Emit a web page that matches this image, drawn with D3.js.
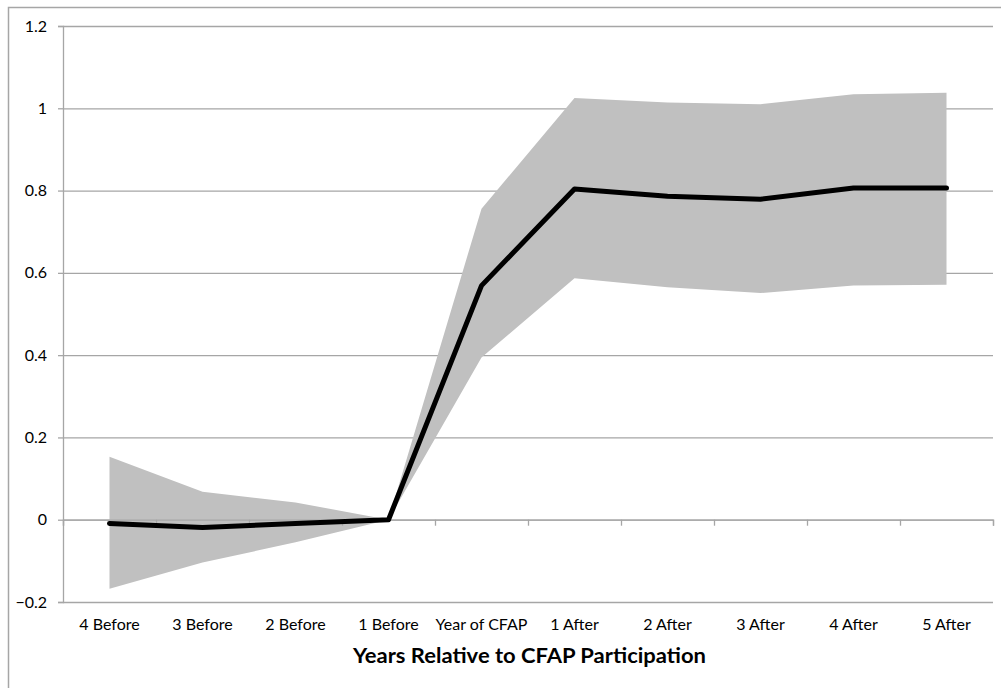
<!DOCTYPE html>
<html>
<head>
<meta charset="utf-8">
<script src="https://cdn.jsdelivr.net/npm/d3@7"></script>
<style>
  html, body { margin: 0; padding: 0; background: #fff; }
  svg { display: block; }
</style>
</head>
<body>
<script>
const categories = ["4 Before", "3 Before", "2 Before", "1 Before", "Year of CFAP",
                    "1 After", "2 After", "3 After", "4 After", "5 After"];
const estimate = [-0.009, -0.019, -0.009, 0, 0.569, 0.804, 0.786, 0.779, 0.806, 0.806];
const upper    = [0.153, 0.068, 0.042, 0, 0.756, 1.025, 1.014, 1.010, 1.034, 1.038];
const lower    = [-0.168, -0.104, -0.055, 0, 0.394, 0.587, 0.565, 0.551, 0.569, 0.571];
const yTicks   = [-0.2, 0, 0.2, 0.4, 0.6, 0.8, 1, 1.2];
const xTitle   = "Years Relative to CFAP Participation";

const W = 1001, H = 688;
const pLeft = 63, pRight = 993, pTop = 26, pBottom = 602;
const gridColor = "#a6a6a6";
const font = "Lato, 'Open Sans', sans-serif";

const svg = d3.select("body").append("svg").attr("width", W).attr("height", H);

// outer frame
svg.append("rect").attr("x", 8.5).attr("y", 7.5).attr("width", 1100).attr("height", 800)
  .attr("fill", "none").attr("stroke", gridColor).attr("stroke-width", 1.5);

const x = d3.scaleBand().domain(categories).range([pLeft, pRight]);
const xIdx = d3.scaleLinear().domain([0, categories.length]).range([pLeft, pRight]);
const y = d3.scaleLinear().domain([-0.2, 1.2]).range([pBottom, pTop]);
const cx = c => x(c) + x.bandwidth() / 2;

// gridlines
const grid = svg.append("g").attr("transform", `translate(${pLeft},0)`)
  .call(d3.axisRight(y).tickValues(yTicks).tickSize(pRight - pLeft).tickFormat(""));
grid.select(".domain").remove();
grid.selectAll("line").attr("stroke", gridColor).attr("stroke-width", 1.3);

// confidence band
const rows = categories.map((c, i) => ({c, e: estimate[i], u: upper[i], l: lower[i]}));
svg.append("path").datum(rows)
  .attr("fill", "#c0c0c0")
  .attr("d", d3.area().x(d => cx(d.c)).y0(d => y(d.l)).y1(d => y(d.u)));

// y axis
const yAx = svg.append("g").attr("transform", `translate(${pLeft},0)`)
  .call(d3.axisLeft(y).tickValues(yTicks).tickSize(5).tickPadding(11)
    .tickFormat(d => d3.format("")(Math.round(d * 10) / 10)));
yAx.select(".domain").attr("stroke", gridColor).attr("stroke-width", 1.3);
yAx.selectAll("line").attr("stroke", gridColor).attr("stroke-width", 1.3);
yAx.selectAll("text").attr("font-family", font).attr("font-size", 16).attr("fill", "#000");

// x axis line at zero with boundary ticks
const xAx = svg.append("g").attr("transform", `translate(0,${y(0)})`)
  .call(d3.axisBottom(xIdx).tickValues(d3.range(categories.length + 1)).tickSize(6).tickFormat(""));
xAx.select(".domain").attr("stroke", gridColor).attr("stroke-width", 1.3);
xAx.selectAll("line").attr("stroke", gridColor).attr("stroke-width", 1.3);

// x labels at the bottom
const xLab = svg.append("g").attr("transform", `translate(0,${pBottom})`)
  .call(d3.axisBottom(x).tickSize(0).tickPadding(17));
xLab.select(".domain").remove();
xLab.selectAll("text").attr("font-family", font).attr("font-size", 16).attr("fill", "#000");

// estimate line
svg.append("path").datum(rows)
  .attr("fill", "none").attr("stroke", "#000").attr("stroke-width", 5)
  .attr("stroke-linejoin", "round").attr("stroke-linecap", "round")
  .attr("d", d3.line().x(d => cx(d.c)).y(d => y(d.e)));

// axis title
svg.append("text").attr("x", (pLeft + pRight) / 2 + 1.5).attr("y", 663)
  .attr("text-anchor", "middle").attr("font-family", font).attr("font-weight", "bold")
  .attr("font-size", 21.5).attr("fill", "#000")
  .attr("textLength", 353).attr("lengthAdjust", "spacingAndGlyphs").text(xTitle);
</script>
</body>
</html>
